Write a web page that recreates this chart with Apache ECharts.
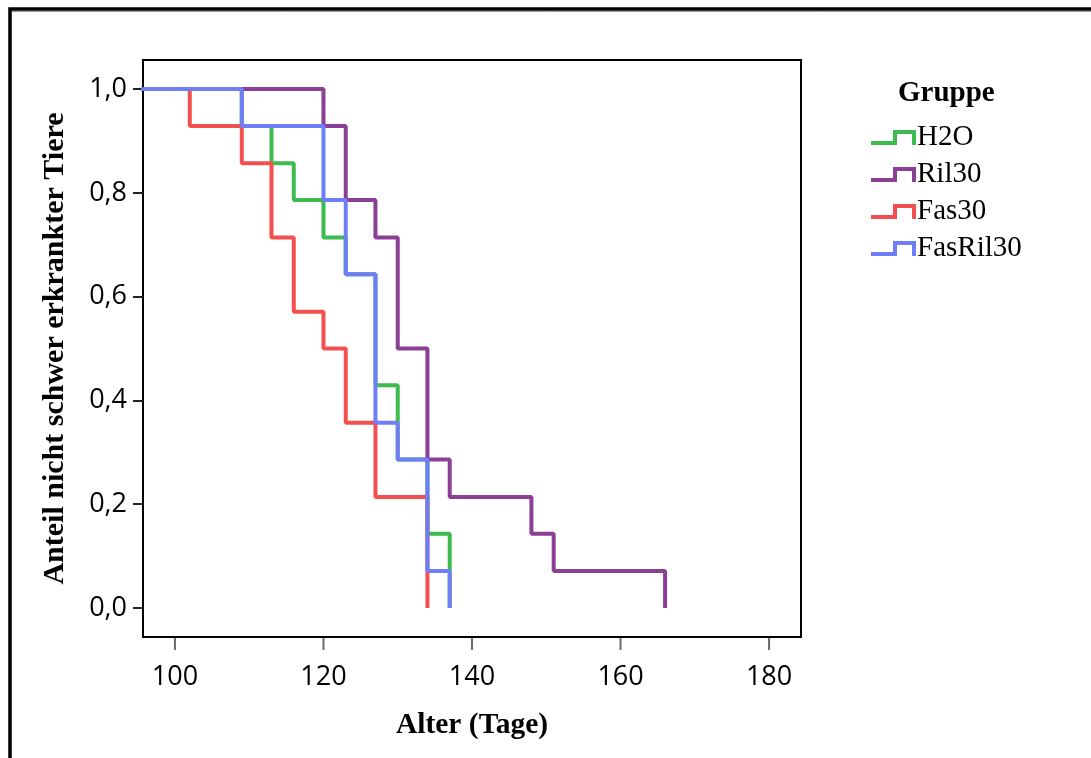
<!DOCTYPE html>
<html>
<head>
<meta charset="utf-8">
<script src="https://cdn.jsdelivr.net/npm/echarts@6/dist/echarts.min.js"></script>
<style>
  html, body { margin: 0; padding: 0; background: #fff; }
  #chart { width: 1091px; height: 758px; }
</style>
</head>
<body>
<div id="chart"></div>
<script>
// Kaplan-Meier: Anteil nicht schwer erkrankter Tiere je Gruppe (n = 14 pro Gruppe)
const groups = ['H2O', 'Ril30', 'Fas30', 'FasRil30'];

// Ereigniszeitpunkte (Alter in Tagen) und Anteil nach dem Ereignis
const h2oDays      = [0, 109, 113, 116, 120, 123, 127, 130, 134, 137];
const h2oSurv      = [1, 0.929, 0.857, 0.786, 0.714, 0.643, 0.429, 0.286, 0.143, 0];

const ril30Days    = [0, 120, 123, 127, 130, 134, 137, 148, 151, 166];
const ril30Surv    = [1, 0.929, 0.786, 0.714, 0.5, 0.286, 0.214, 0.143, 0.071, 0];

const fas30Days    = [0, 102, 109, 113, 116, 120, 123, 127, 134];
const fas30Surv    = [1, 0.929, 0.857, 0.714, 0.571, 0.5, 0.357, 0.214, 0];

const fasRil30Days = [0, 109, 120, 123, 127, 130, 134, 137];
const fasRil30Surv = [1, 0.929, 0.786, 0.643, 0.357, 0.286, 0.071, 0];

const xTicks = [100, 120, 140, 160, 180];
const yTicks = [0, 0.2, 0.4, 0.6, 0.8, 1.0];

const xRange = [95.7, 184.3];
const yRange = [-0.056, 1.056];

const colors = ['#3dbb4e', '#8b3f95', '#f44f4f', '#6f7ef7'];

const pairs = (xs, ys) => xs.map((x, i) => [x, ys[i]]);
const seriesData = [
  pairs(h2oDays, h2oSurv),
  pairs(ril30Days, ril30Surv),
  pairs(fas30Days, fas30Surv),
  pairs(fasRil30Days, fasRil30Surv)
];

// Treppen-Symbol für die Legende
const stepIcon = 'path://M0,11 L22,11 L22,0 L45,0 L45,15 L41,15 L41,4 L26,4 L26,15 L0,15 Z';

const chart = echarts.init(document.getElementById('chart'), null, { renderer: 'canvas' });

const survivalSeries = groups.map((g, i) => ({
  name: g,
  type: 'line',
  step: 'end',
  showSymbol: false,
  clip: true,
  data: seriesData[i],
  lineStyle: { width: 4, color: colors[i] },
  itemStyle: { color: colors[i] }
}));

// Teilstriche unter der Altersachse, an der Achsenskala ausgerichtet
const xTickSeries = {
  name: 'xTicks',
  type: 'scatter',
  silent: true,
  clip: false,
  symbol: 'rect',
  symbolSize: [2, 12],
  symbolOffset: [0, 7],
  itemStyle: { color: '#444' },
  data: xTicks.map(v => [v, yRange[0]]),
  z: 3
};

chart.setOption({
  animation: false,
  backgroundColor: '#fff',
  color: colors,
  title: {
    text: 'Gruppe',
    left: 893,
    top: 74,
    textStyle: { fontFamily: 'Liberation Serif', fontWeight: 'bold', fontSize: 29, color: '#000' }
  },
  legend: {
    orient: 'vertical',
    left: 866,
    top: 118,
    itemWidth: 45,
    itemHeight: 15,
    itemGap: 8,
    icon: stepIcon,
    data: groups,
    textStyle: { fontFamily: 'Liberation Serif', fontSize: 29, color: '#000', padding: [0, 0, 0, -4] }
  },
  grid: {
    left: 143,
    top: 60,
    right: 290,
    bottom: 121,
    show: true,
    borderColor: '#000',
    borderWidth: 2,
    backgroundColor: '#fff'
  },
  xAxis: {
    type: 'value',
    min: xRange[0],
    max: xRange[1],
    name: 'Alter (Tage)',
    nameLocation: 'middle',
    nameGap: 73,
    nameTextStyle: { fontFamily: 'Liberation Serif', fontWeight: 'bold', fontSize: 29.5, color: '#000' },
    axisLine: { show: true, onZero: false, lineStyle: { color: '#000', width: 2 } },
    axisTick: { show: false },
    axisLabel: {
      customValues: xTicks,
      margin: 27,
      fontFamily: 'Open Sans',
      fontSize: 27,
      color: '#000'
    },
    splitLine: { show: false }
  },
  yAxis: {
    type: 'value',
    min: yRange[0],
    max: yRange[1],
    name: 'Anteil nicht schwer erkrankter Tiere',
    nameLocation: 'middle',
    nameGap: 73,
    nameTextStyle: { fontFamily: 'Liberation Serif', fontWeight: 'bold', fontSize: 30, color: '#000' },
    axisLine: { show: true, onZero: false, lineStyle: { color: '#000', width: 2 } },
    axisTick: { show: true, length: 10, customValues: yTicks, lineStyle: { color: '#222', width: 2 } },
    axisLabel: {
      customValues: yTicks,
      margin: 16,
      fontFamily: 'Open Sans',
      fontSize: 27,
      color: '#000',
      formatter: v => v.toFixed(1).replace('.', ',')
    },
    splitLine: { show: false }
  },
  series: survivalSeries.concat([xTickSeries]),
  graphic: [
    {
      type: 'rect',
      shape: { x: 10, y: 9, width: 1200, height: 900 },
      style: { fill: 'none', stroke: '#000', lineWidth: 3.5 },
      silent: true
    },
    {
      type: 'line',
      shape: { x1: 12, y1: 11.5, x2: 1091, y2: 11.5 },
      style: { stroke: '#999', lineWidth: 1 },
      silent: true
    }
  ]
});
</script>
</body>
</html>
